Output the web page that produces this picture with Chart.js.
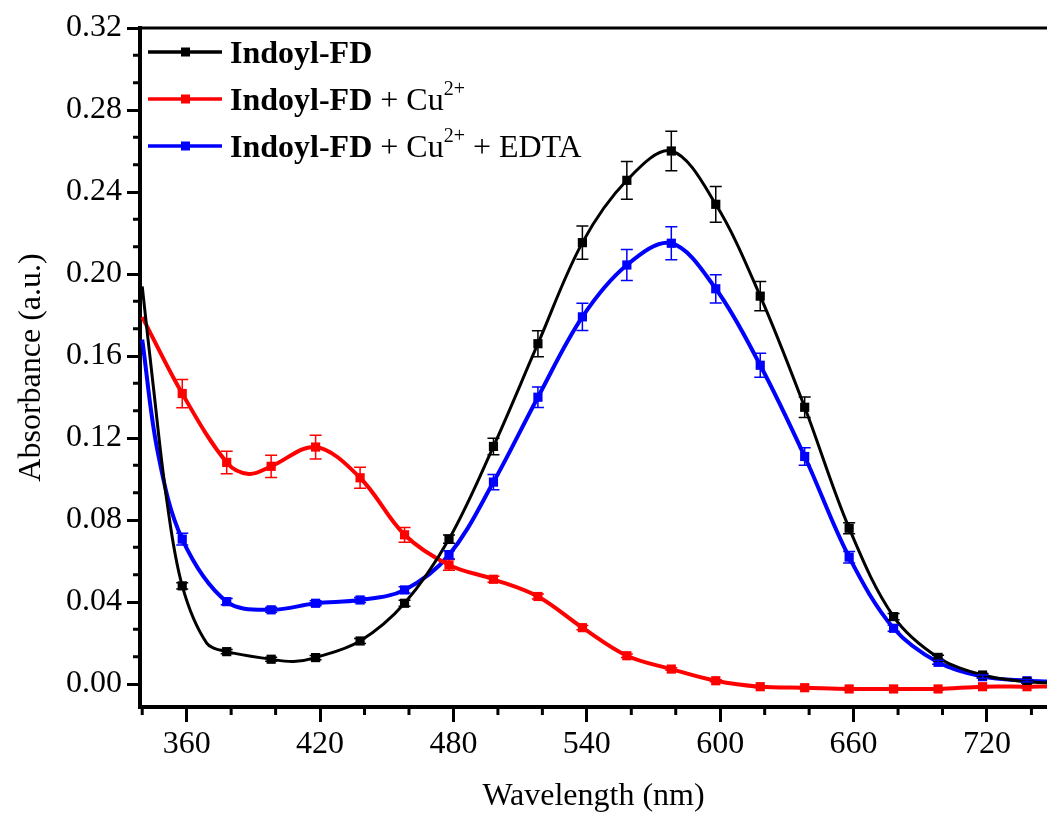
<!DOCTYPE html>
<html>
<head>
<meta charset="utf-8">
<title>Absorbance spectra</title>
<script src="https://cdn.jsdelivr.net/npm/chart.js@4/dist/chart.umd.min.js"></script>
<style>
  html, body { margin: 0; padding: 0; background: #fff; }
  #wrap { width: 1047px; height: 820px; }
</style>
</head>
<body>
<div id="wrap"><canvas id="uv-graph" width="1047" height="820"></canvas></div>
<script>
// wavelengths where the square markers sit (nm)
var markerNm = [358, 378, 398, 418, 438, 458, 478, 498, 518, 538, 558, 578, 598, 618, 638, 658, 678, 698, 718, 738];

var blackAbs = [0.0479, 0.0158, 0.0121, 0.0129, 0.0210, 0.0394, 0.0707, 0.1159, 0.1660, 0.2153, 0.2457, 0.2600, 0.2340, 0.1892, 0.1350, 0.0760, 0.0329, 0.0130, 0.0044, 0.0011];
var blackErr = [0.0015, 0.0010, 0.0010, 0.0010, 0.0012, 0.0015, 0.0020, 0.0040, 0.0063, 0.0081, 0.0092, 0.0096, 0.0087, 0.0071, 0.0050, 0.0027, 0.0015, 0.0010, 0.0008, 0.0006];

var redAbs = [0.1417, 0.1081, 0.1062, 0.1156, 0.1006, 0.0728, 0.0581, 0.0511, 0.0427, 0.0275, 0.0138, 0.0073, 0.0016, -0.0013, -0.0018, -0.0024, -0.0024, -0.0024, -0.0013, -0.0013];
var redErr = [0.0069, 0.0055, 0.0054, 0.0058, 0.0051, 0.0036, 0.0026, 0.0015, 0.0012, 0.0010, 0.0008, 0.0006, 0.0005, 0.0005, 0.0005, 0.0005, 0.0005, 0.0005, 0.0005, 0.0005];

var blueAbs = [0.0707, 0.0402, 0.0362, 0.0394, 0.0410, 0.0459, 0.0630, 0.0985, 0.1399, 0.1791, 0.2044, 0.2150, 0.1928, 0.1555, 0.1110, 0.0619, 0.0272, 0.0106, 0.0036, 0.0016];
var blueErr = [0.0029, 0.0015, 0.0012, 0.0012, 0.0012, 0.0015, 0.0020, 0.0037, 0.0050, 0.0066, 0.0076, 0.0081, 0.0069, 0.0059, 0.0043, 0.0028, 0.0015, 0.0010, 0.0008, 0.0006];

// extra points of the measured curves (no marker)
var blackCurveNm = [340, 345, 351, 369, 408, 750];
var blackCurveAbs = [0.194, 0.145, 0.090, 0.020, 0.011, 0.0005];
var redCurveNm = [340, 388, 750];
var redCurveAbs = [0.179, 0.1025, -0.0012];
var blueCurveNm = [340, 347, 750];
var blueCurveAbs = [0.168, 0.113, 0.0012];

var xTicks = [360, 420, 480, 540, 600, 660, 720];
var yTicks = [0.00, 0.04, 0.08, 0.12, 0.16, 0.20, 0.24, 0.28, 0.32];

var legendRows = [
  { color: '#000000', parts: [{ t: 'Indoyl-FD', bold: true }] },
  { color: '#ff0000', parts: [{ t: 'Indoyl-FD', bold: true }, { t: ' + Cu' }, { t: '2+', sup: true }] },
  { color: '#0000ff', parts: [{ t: 'Indoyl-FD', bold: true }, { t: ' + Cu' }, { t: '2+', sup: true }, { t: ' + EDTA' }] }
];

var FONT = '"Liberation Serif", "Times New Roman", serif';

function buildSeries(abs, err, extraNm, extraAbs) {
  var pts = markerNm.map(function(nm, i) {
    return { x: nm, y: abs[i], err: err[i], mark: true };
  });
  extraNm.forEach(function(nm, i) {
    pts.push({ x: nm, y: extraAbs[i], err: 0, mark: false });
  });
  pts.sort(function(a, b) { return a.x - b.x; });
  return pts;
}

function makeDataset(label, color, width, pts) {
  return {
    label: label,
    data: pts,
    borderColor: color,
    backgroundColor: color,
    borderWidth: width,
    tension: 0.35,
    pointStyle: 'rect',
    pointRadius: function(ctx) { return ctx.raw && ctx.raw.mark ? 6.5 : 0; },
    pointHoverRadius: function(ctx) { return ctx.raw && ctx.raw.mark ? 6.5 : 0; },
    pointBorderWidth: 0
  };
}

// error bars, drawn through the scales
var errorBars = {
  id: 'errorBars',
  afterDatasetsDraw: function(chart) {
    var ctx = chart.ctx;
    var ys = chart.scales.y;
    var area = chart.chartArea;
    ctx.save();
    ctx.beginPath();
    ctx.rect(area.left, area.top, area.right - area.left, area.bottom - area.top);
    ctx.clip();
    chart.data.datasets.forEach(function(ds, di) {
      var meta = chart.getDatasetMeta(di);
      ctx.strokeStyle = ds.borderColor;
      ctx.lineWidth = 1.5;
      meta.data.forEach(function(pt, i) {
        var raw = ds.data[i];
        if (!raw.mark || !raw.err) return;
        var top = ys.getPixelForValue(raw.y + raw.err);
        var bot = ys.getPixelForValue(raw.y - raw.err);
        ctx.beginPath();
        ctx.moveTo(pt.x, top); ctx.lineTo(pt.x, bot);
        ctx.moveTo(pt.x - 6, top); ctx.lineTo(pt.x + 6, top);
        ctx.moveTo(pt.x - 6, bot); ctx.lineTo(pt.x + 6, bot);
        ctx.stroke();
      });
    });
    ctx.restore();
  }
};

// minor ticks, top frame line and the legend
var decorations = {
  id: 'decorations',
  afterDraw: function(chart) {
    var ctx = chart.ctx;
    var area = chart.chartArea;
    var xs = chart.scales.x, ys = chart.scales.y;
    ctx.save();
    ctx.strokeStyle = '#000';
    ctx.lineWidth = 3;
    ctx.beginPath();
    for (var nm = 340; nm <= xs.max; nm += 20) {
      if (nm % 60 === 0) continue;
      var px = xs.getPixelForValue(nm);
      ctx.moveTo(px, area.bottom); ctx.lineTo(px, area.bottom + 8);
    }
    for (var k = 1; k * 0.04 / 3 < ys.max; k++) {
      if (k % 3 === 0) continue;
      var py = ys.getPixelForValue(k * 0.04 / 3);
      ctx.moveTo(area.left, py); ctx.lineTo(area.left - 7, py);
    }
    ctx.stroke();

    // frame on top
    ctx.lineWidth = 3;
    ctx.beginPath();
    ctx.moveTo(area.left - 2, area.top);
    ctx.lineTo(area.right, area.top);
    ctx.stroke();

    // legend
    legendRows.forEach(function(row, r) {
      var ly = 52 + r * 47;
      ctx.strokeStyle = row.color;
      ctx.fillStyle = row.color;
      ctx.lineWidth = 3.5;
      ctx.beginPath();
      ctx.moveTo(148, ly); ctx.lineTo(222, ly);
      ctx.stroke();
      ctx.fillRect(181, ly - 4.5, 9, 9);

      var tx = 230, base = ly + 11;
      ctx.fillStyle = '#000';
      ctx.textBaseline = 'alphabetic';
      ctx.textAlign = 'left';
      row.parts.forEach(function(p) {
        if (p.sup) {
          ctx.font = '20px ' + FONT;
          ctx.fillText(p.t, tx, base - 15);
        } else {
          ctx.font = (p.bold ? 'bold ' : '') + '32px ' + FONT;
          ctx.fillText(p.t, tx, base);
        }
        tx += ctx.measureText(p.t).width;
      });
    });
    ctx.restore();
  }
};

var ctx = document.getElementById('uv-graph').getContext('2d');
var uvChart = new Chart(ctx, {
  type: 'line',
  data: {
    datasets: [
      makeDataset('Indoyl-FD', '#000000', 3, buildSeries(blackAbs, blackErr, blackCurveNm, blackCurveAbs)),
      makeDataset('Indoyl-FD + Cu2+', '#ff0000', 4, buildSeries(redAbs, redErr, redCurveNm, redCurveAbs)),
      makeDataset('Indoyl-FD + Cu2+ + EDTA', '#0000ff', 4, buildSeries(blueAbs, blueErr, blueCurveNm, blueCurveAbs))
    ]
  },
  options: {
    responsive: false,
    animation: false,
    devicePixelRatio: 1,
    layout: { padding: { top: 28, right: 0, left: 0, bottom: 0 } },
    plugins: {
      legend: { display: false },
      tooltip: { enabled: false }
    },
    scales: {
      x: {
        type: 'linear',
        min: 339,
        max: 747,
        afterBuildTicks: function(scale) {
          scale.ticks = xTicks.map(function(v) { return { value: v }; });
        },
        afterFit: function(scale) { scale.height = 113; },
        ticks: {
          color: '#000',
          font: { family: FONT, size: 32 },
          padding: 3,
          maxRotation: 0,
          autoSkip: false
        },
        grid: { drawOnChartArea: false, drawTicks: true, tickLength: 15, tickWidth: 3, tickColor: '#000' },
        border: { display: true, width: 4, color: '#000' },
        title: {
          display: true,
          text: 'Wavelength (nm)',
          color: '#000',
          font: { family: FONT, size: 32 },
          padding: { top: 0, bottom: 4 }
        }
      },
      y: {
        min: -0.0112,
        max: 0.32,
        afterBuildTicks: function(scale) {
          scale.ticks = yTicks.map(function(v) { return { value: v }; });
        },
        afterFit: function(scale) { scale.width = 140; },
        ticks: {
          color: '#000',
          font: { family: FONT, size: 32 },
          padding: 5,
          callback: function(v) { return Number(v).toFixed(2); }
        },
        grid: { drawOnChartArea: false, drawTicks: true, tickLength: 13, tickWidth: 3, tickColor: '#000' },
        border: { display: true, width: 4, color: '#000' },
        title: {
          display: true,
          text: 'Absorbance (a.u.)',
          color: '#000',
          font: { family: FONT, size: 32 },
          padding: { top: 12, bottom: 0 }
        }
      }
    }
  },
  plugins: [errorBars, decorations]
});
</script>
</body>
</html>
